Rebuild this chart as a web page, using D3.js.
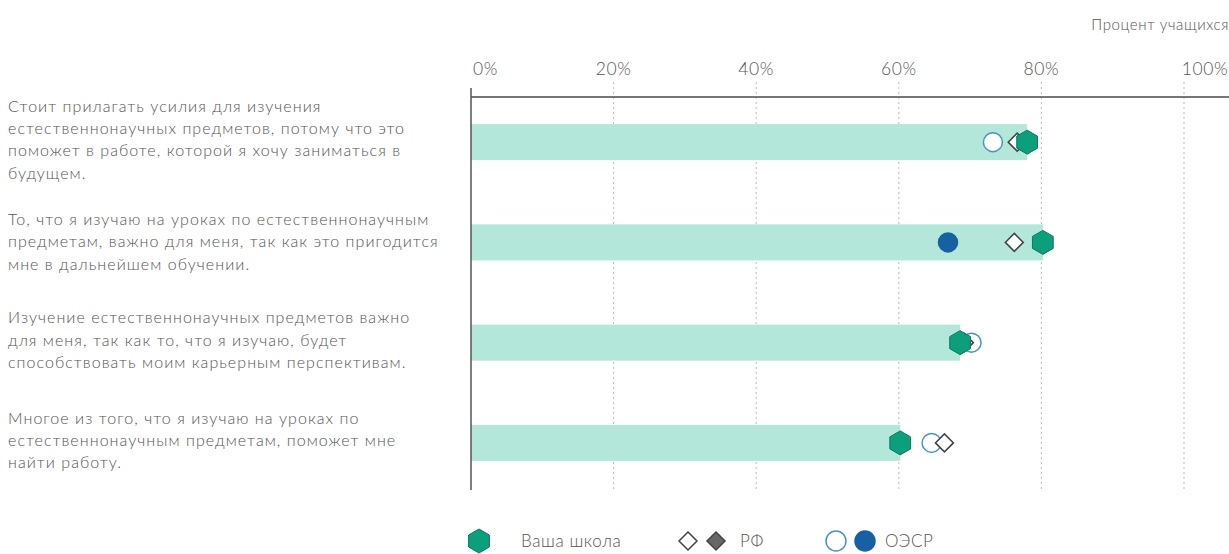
<!DOCTYPE html>
<html lang="ru">
<head>
<meta charset="UTF-8">
<title>Процент учащихся</title>
<script src="https://d3js.org/d3.v7.min.js"></script>
<style>
  body { margin: 0; background: #fff; }
  svg text { font-family: Lato, "Noto Sans", sans-serif; font-weight: 300; fill: #555; letter-spacing: 0.6px; }
  svg text.stmt { letter-spacing: 1.05px; }
</style>
</head>
<body>
<div id="chart"></div>
<script>
// данные
var statements = [
  ["Стоит прилагать усилия для изучения", "естественнонаучных предметов, потому что это", "поможет в работе, которой я хочу заниматься в", "будущем."],
  ["То, что я изучаю на уроках по естественнонаучным", "предметам, важно для меня, так как это пригодится", "мне в дальнейшем обучении."],
  ["Изучение естественнонаучных предметов важно", "для меня, так как то, что я изучаю, будет", "способствовать моим карьерным перспективам."],
  ["Многое из того, что я изучаю на уроках по", "естественнонаучным предметам, поможет мне", "найти работу."]
];
var school = [78, 80.2, 68.6, 60.2];
var rf = [76.6, 76.2, 69.2, 66.4];
var rfSig = [false, false, false, false];
var oecd = [73.2, 66.9, 70.2, 64.6];
var oecdSig = [false, true, false, false];
var ticks = [0, 20, 40, 60, 80, 100];

var width = 1229, height = 554;
var svg = d3.select("#chart").append("svg")
  .attr("width", width).attr("height", height);

var x = d3.scaleLinear().domain([0, 100]).range([471, 1184]);
var y = d3.scaleBand().domain(d3.range(statements.length)).range([92, 493]);
var yc = function(i) { return y(i) + y.bandwidth() / 2; };

var green = "#0c9f7b", greenDark = "#0a7a5d", mint = "#b3e7d9";
var blue = "#1760a3", blueLight = "#4a93c7";

// заголовок
svg.append("text").attr("x", 1229).attr("y", 30).attr("text-anchor", "end")
  .style("font-size", "15px").text("Процент учащихся");

// сетка
svg.selectAll(".grid").data(ticks.slice(1)).enter().append("line")
  .attr("x1", d => x(d)).attr("x2", d => x(d))
  .attr("y1", 82).attr("y2", 490)
  .attr("stroke", "#bbb").attr("stroke-dasharray", "2,3").attr("stroke-width", 1);

// подписи осей
svg.selectAll(".tick").data(ticks).enter().append("text")
  .attr("x", d => x(d)).attr("y", 75)
  .attr("text-anchor", d => d === 0 ? "start" : "middle")
  .attr("dx", d => d === 0 ? 2 : (d === 100 ? 21 : 0))
  .style("font-size", "17.5px").text(d => d + "%");

// бары
svg.selectAll(".bar").data(school).enter().append("rect")
  .attr("x", x(0)).attr("y", (d, i) => yc(i) - 18)
  .attr("width", d => x(d) - x(0)).attr("height", 36)
  .attr("fill", mint);

// оси
svg.append("line").attr("x1", x(0)).attr("x2", width).attr("y1", 97).attr("y2", 97)
  .attr("stroke", "#777").attr("stroke-width", 2);
svg.append("line").attr("x1", x(0)).attr("x2", x(0)).attr("y1", 88).attr("y2", 490)
  .attr("stroke", "#555").attr("stroke-width", 1.5);

// подписи утверждений
var lh = 22.3;
statements.forEach(function(lines, i) {
  var first = yc(i) - (lines.length - 1) * lh / 2 - 2 + 5 + (i === 1 ? 2 : 0);
  var t = svg.append("text").attr("class", "stmt").attr("x", 8).attr("y", first)
    .style("font-size", "16px");
  lines.forEach(function(l, j) {
    t.append("tspan").attr("x", 8).attr("dy", j === 0 ? 0 : lh).text(l);
  });
});

var hexagon = d3.symbol().type({
  draw: function(ctx, size) {
    var r = Math.sqrt(size / (1.5 * Math.sqrt(3)));
    for (var k = 0; k < 6; k++) {
      var a = Math.PI / 3 * k - Math.PI / 2;
      if (k === 0) ctx.moveTo(r * Math.cos(a), r * Math.sin(a));
      else ctx.lineTo(r * Math.cos(a), r * Math.sin(a));
    }
    ctx.closePath();
  }
}).size(1.5 * Math.sqrt(3) * 12 * 12);

var diamond = d3.symbol().type({
  draw: function(ctx, size) {
    var r = Math.sqrt(size / 2);
    ctx.moveTo(0, -r); ctx.lineTo(r, 0); ctx.lineTo(0, r); ctx.lineTo(-r, 0); ctx.closePath();
  }
}).size(2 * 9 * 9);

// ОЭСР
svg.selectAll(".oecd").data(oecd).enter().append("circle")
  .attr("cx", d => x(d)).attr("cy", (d, i) => yc(i)).attr("r", 9.5)
  .attr("fill", (d, i) => oecdSig[i] ? blue : "#fff")
  .attr("stroke", (d, i) => oecdSig[i] ? blue : blueLight).attr("stroke-width", 1.5);

// РФ
svg.selectAll(".rf").data(rf).enter().append("path")
  .attr("d", diamond)
  .attr("transform", (d, i) => "translate(" + x(d) + "," + yc(i) + ")")
  .attr("fill", (d, i) => rfSig[i] ? "#666" : "#fff")
  .attr("stroke", "#444").attr("stroke-width", 1.5);

// школа
svg.selectAll(".school").data(school).enter().append("path")
  .attr("d", hexagon)
  .attr("transform", (d, i) => "translate(" + x(d) + "," + yc(i) + ")")
  .attr("fill", green).attr("stroke", greenDark).attr("stroke-width", 1);

// легенда
var ly = 541;
svg.append("path").attr("d", hexagon).attr("transform", "translate(479," + ly + ")")
  .attr("fill", green).attr("stroke", greenDark);
svg.append("text").attr("x", 521).attr("y", ly + 6).style("font-size", "17px").text("Ваша школа");
svg.append("path").attr("d", diamond).attr("transform", "translate(688," + ly + ")")
  .attr("fill", "#fff").attr("stroke", "#444").attr("stroke-width", 1.5);
svg.append("path").attr("d", diamond).attr("transform", "translate(716," + ly + ")")
  .attr("fill", "#666").attr("stroke", "#444").attr("stroke-width", 1.5);
svg.append("text").attr("x", 740).attr("y", ly + 6).style("font-size", "17px").text("РФ");
svg.append("circle").attr("cx", 836).attr("cy", ly).attr("r", 10)
  .attr("fill", "#fff").attr("stroke", blueLight).attr("stroke-width", 1.5);
svg.append("circle").attr("cx", 865).attr("cy", ly).attr("r", 10)
  .attr("fill", blue).attr("stroke", blue).attr("stroke-width", 1.5);
svg.append("text").attr("x", 885).attr("y", ly + 6).style("font-size", "17px").text("ОЭСР");
</script>
</body>
</html>
